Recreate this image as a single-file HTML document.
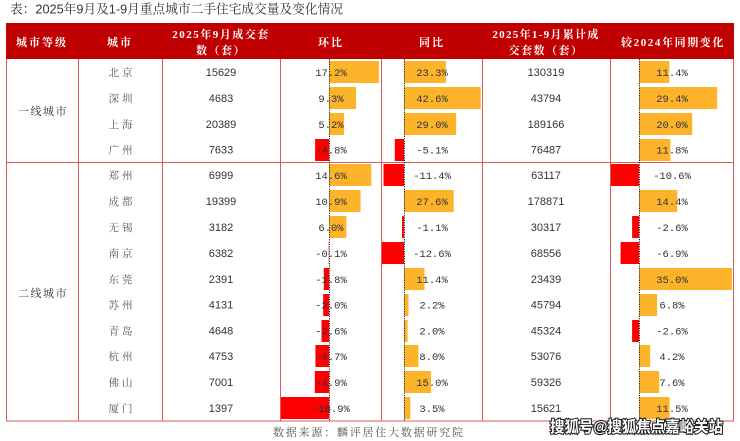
<!DOCTYPE html>
<html><head><meta charset="utf-8"><style>
html,body{margin:0;padding:0;background:#fff;}
svg{display:block;}
</style></head><body>
<svg width="740" height="441" viewBox="0 0 740 441" xmlns="http://www.w3.org/2000/svg">
<rect width="740" height="441" fill="#fff"/>
<text x="10" y="13.5" font-family="'Liberation Sans','Noto Serif CJK SC',serif" font-size="13" fill="#333" textLength="333" lengthAdjust="spacingAndGlyphs">表：2025年9月及1-9月重点城市二手住宅成交量及变化情况</text>

<rect x="6" y="23" width="728" height="36" fill="#c00000"/>
<g font-family="'Liberation Serif','Noto Serif CJK SC',serif" font-size="11" font-weight="bold" fill="#fff" text-anchor="middle">
<text x="42" y="46" letter-spacing="2">城市等级</text>
<text x="120" y="46" letter-spacing="2">城市</text>
<text x="221" y="38" letter-spacing="1.5">2025年9月成交套</text>
<text x="221" y="54" letter-spacing="1.5">数（套）</text>
<text x="331" y="46" letter-spacing="2">环比</text>
<text x="432" y="46" letter-spacing="2">同比</text>
<text x="546" y="38" letter-spacing="1.3">2025年1-9月累计成</text>
<text x="546" y="54" letter-spacing="1.5">交套数（套）</text>
<text x="673" y="46" letter-spacing="1.6">较2024年同期变化</text>
</g>

<!-- bars 环比 -->
<g>
<rect x="329" y="61" width="49.9" height="22" fill="#FDB42B"/>
<rect x="329" y="87" width="27" height="22" fill="#FDB42B"/>
<rect x="329" y="113" width="15.1" height="22" fill="#FDB42B"/>
<rect x="315.1" y="139" width="13.9" height="22" fill="#FF0000"/>
<rect x="329" y="164" width="42.3" height="22" fill="#FDB42B"/>
<rect x="329" y="190" width="31.6" height="22" fill="#FDB42B"/>
<rect x="329" y="216" width="17.4" height="22" fill="#FDB42B"/>
<rect x="328.7" y="242" width="0.3" height="22" fill="#FF0000"/>
<rect x="323.8" y="268" width="5.2" height="22" fill="#FF0000"/>
<rect x="323.2" y="294" width="5.8" height="22" fill="#FF0000"/>
<rect x="321.5" y="320" width="7.5" height="22" fill="#FF0000"/>
<rect x="315.4" y="345" width="13.6" height="22" fill="#FF0000"/>
<rect x="314.8" y="371" width="14.2" height="22" fill="#FF0000"/>
<rect x="280" y="397" width="49" height="22" fill="#FF0000"/>
</g>
<!-- bars 同比 -->
<g>
<rect x="404" y="61" width="41.9" height="22" fill="#FDB42B"/>
<rect x="404" y="87" width="76.7" height="22" fill="#FDB42B"/>
<rect x="404" y="113" width="52.2" height="22" fill="#FDB42B"/>
<rect x="394.8" y="139" width="9.2" height="22" fill="#FF0000"/>
<rect x="383.5" y="164" width="20.5" height="22" fill="#FF0000"/>
<rect x="404" y="190" width="49.7" height="22" fill="#FDB42B"/>
<rect x="402" y="216" width="2" height="22" fill="#FF0000"/>
<rect x="381.3" y="242" width="22.7" height="22" fill="#FF0000"/>
<rect x="404" y="268" width="20.5" height="22" fill="#FDB42B"/>
<rect x="404" y="294" width="4.5" height="22" fill="#FDB42B"/>
<rect x="404" y="320" width="3.6" height="22" fill="#FDB42B"/>
<rect x="404" y="345" width="14.4" height="22" fill="#FDB42B"/>
<rect x="404" y="371" width="27" height="22" fill="#FDB42B"/>
<rect x="404" y="397" width="6.3" height="22" fill="#FDB42B"/>
</g>
<!-- bars 较2024 -->
<g>
<rect x="639" y="61" width="30.3" height="22" fill="#FDB42B"/>
<rect x="639" y="87" width="78.2" height="22" fill="#FDB42B"/>
<rect x="639" y="113" width="53.2" height="22" fill="#FDB42B"/>
<rect x="639" y="139" width="31.4" height="22" fill="#FDB42B"/>
<rect x="610.8" y="164" width="28.2" height="22" fill="#FF0000"/>
<rect x="639" y="190" width="38.3" height="22" fill="#FDB42B"/>
<rect x="632.1" y="216" width="6.9" height="22" fill="#FF0000"/>
<rect x="620.6" y="242" width="18.4" height="22" fill="#FF0000"/>
<rect x="639" y="268" width="93.1" height="22" fill="#FDB42B"/>
<rect x="639" y="294" width="18.1" height="22" fill="#FDB42B"/>
<rect x="632.1" y="320" width="6.9" height="22" fill="#FF0000"/>
<rect x="639" y="345" width="11.2" height="22" fill="#FDB42B"/>
<rect x="639" y="371" width="20.2" height="22" fill="#FDB42B"/>
<rect x="639" y="397" width="30.6" height="22" fill="#FDB42B"/>
</g>

<!-- grid -->
<g stroke="#dc5a5a" stroke-width="1" fill="none">
<line x1="6.5" y1="59" x2="6.5" y2="421.5"/>
<line x1="78.5" y1="59" x2="78.5" y2="421.5"/>
<line x1="162.5" y1="59" x2="162.5" y2="421.5"/>
<line x1="280.5" y1="59" x2="280.5" y2="421.5"/>
<line x1="381.5" y1="59" x2="381.5" y2="421.5"/>
<line x1="482.5" y1="59" x2="482.5" y2="421.5"/>
<line x1="610.5" y1="59" x2="610.5" y2="421.5"/>
<line x1="733.5" y1="59" x2="733.5" y2="421.5"/>
<line x1="6" y1="162.5" x2="734" y2="162.5"/>
<line x1="6" y1="421" x2="734" y2="421"/>
</g>
<g stroke="#222" stroke-width="1" stroke-dasharray="1.2,1.2">
<line x1="329.5" y1="59" x2="329.5" y2="421"/>
<line x1="404.5" y1="59" x2="404.5" y2="421"/>
<line x1="639.5" y1="59" x2="639.5" y2="421"/>
</g>

<!-- tier labels -->
<g font-family="'Liberation Serif','Noto Serif CJK SC',serif" font-size="11" fill="#333" text-anchor="middle" letter-spacing="1.5">
<text x="43" y="115">一线城市</text>
<text x="43" y="297">二线城市</text>
</g>
<!-- city names -->
<g font-family="'Liberation Serif','Noto Serif CJK SC',serif" font-size="10.5" fill="#555" text-anchor="middle" letter-spacing="3">
<text x="122" y="76">北京</text>
<text x="122" y="102">深圳</text>
<text x="122" y="128">上海</text>
<text x="122" y="153.5">广州</text>
<text x="122" y="179">郑州</text>
<text x="122" y="205">成都</text>
<text x="122" y="231">无锡</text>
<text x="122" y="257">南京</text>
<text x="122" y="283">东莞</text>
<text x="122" y="308.5">苏州</text>
<text x="122" y="334.5">青岛</text>
<text x="122" y="360">杭州</text>
<text x="122" y="386">佛山</text>
<text x="122" y="412">厦门</text>
</g>
<!-- numbers -->
<g font-family="'Liberation Sans',sans-serif" font-size="11" fill="#333" text-anchor="middle">
<text x="221" y="76">15629</text>
<text x="221" y="102">4683</text>
<text x="221" y="128">20389</text>
<text x="221" y="153.5">7633</text>
<text x="221" y="179">6999</text>
<text x="221" y="205">19399</text>
<text x="221" y="231">3182</text>
<text x="221" y="257">6382</text>
<text x="221" y="283">2391</text>
<text x="221" y="308.5">4131</text>
<text x="221" y="334.5">4648</text>
<text x="221" y="360">4753</text>
<text x="221" y="386">7001</text>
<text x="221" y="412">1397</text>

<text x="546" y="76">130319</text>
<text x="546" y="102">43794</text>
<text x="546" y="128">189166</text>
<text x="546" y="153.5">76487</text>
<text x="546" y="179">63117</text>
<text x="546" y="205">178871</text>
<text x="546" y="231">30317</text>
<text x="546" y="257">68556</text>
<text x="546" y="283">23439</text>
<text x="546" y="308.5">45794</text>
<text x="546" y="334.5">45324</text>
<text x="546" y="360">53076</text>
<text x="546" y="386">59326</text>
<text x="546" y="412">15621</text>
</g>
<!-- percentages -->
<g font-family="'Liberation Mono',monospace" font-size="10.5" fill="#333" text-anchor="middle">
<text x="331" y="76">17.2%</text>
<text x="331" y="102">9.3%</text>
<text x="331" y="128">5.2%</text>
<text x="331" y="153.5">-4.8%</text>
<text x="331" y="179">14.6%</text>
<text x="331" y="205">10.9%</text>
<text x="331" y="231">6.0%</text>
<text x="331" y="257">-0.1%</text>
<text x="331" y="283">-1.8%</text>
<text x="331" y="308.5">-2.0%</text>
<text x="331" y="334.5">-2.6%</text>
<text x="331" y="360">-4.7%</text>
<text x="331" y="386">-4.9%</text>
<text x="331" y="412">-16.9%</text>

<text x="432" y="76">23.3%</text>
<text x="432" y="102">42.6%</text>
<text x="432" y="128">29.0%</text>
<text x="432" y="153.5">-5.1%</text>
<text x="432" y="179">-11.4%</text>
<text x="432" y="205">27.6%</text>
<text x="432" y="231">-1.1%</text>
<text x="432" y="257">-12.6%</text>
<text x="432" y="283">11.4%</text>
<text x="432" y="308.5">2.2%</text>
<text x="432" y="334.5">2.0%</text>
<text x="432" y="360">8.0%</text>
<text x="432" y="386">15.0%</text>
<text x="432" y="412">3.5%</text>

<text x="672" y="76">11.4%</text>
<text x="672" y="102">29.4%</text>
<text x="672" y="128">20.0%</text>
<text x="672" y="153.5">11.8%</text>
<text x="672" y="179">-10.6%</text>
<text x="672" y="205">14.4%</text>
<text x="672" y="231">-2.6%</text>
<text x="672" y="257">-6.9%</text>
<text x="672" y="283">35.0%</text>
<text x="672" y="308.5">6.8%</text>
<text x="672" y="334.5">-2.6%</text>
<text x="672" y="360">4.2%</text>
<text x="672" y="386">7.6%</text>
<text x="672" y="412">11.5%</text>
</g>

<text x="273" y="436" font-family="'Liberation Serif','Noto Serif CJK SC',serif" font-size="11" fill="#555" textLength="190" lengthAdjust="spacing">数据来源：麟评居住大数据研究院</text>

<text x="550" y="432" font-family="'Liberation Sans','Noto Sans CJK SC',sans-serif" font-size="15.5" font-weight="bold" fill="#fff" stroke="#222" stroke-width="2.2" paint-order="stroke" textLength="173" lengthAdjust="spacingAndGlyphs">搜狐号@搜狐焦点嘉峪关站</text>
</svg>
</body></html>
